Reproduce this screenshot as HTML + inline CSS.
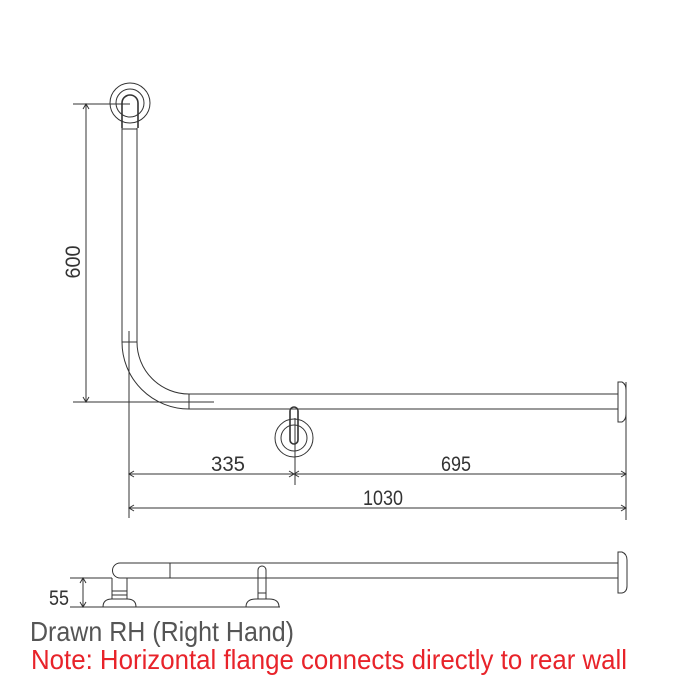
<!DOCTYPE html>
<html><head><style>body{margin:0;background:#fff}svg{display:block}</style></head>
<body>
<svg width="700" height="700" viewBox="0 0 700 700" xmlns="http://www.w3.org/2000/svg">
<g fill="none" stroke="#333" stroke-width="1">
<circle cx="130" cy="103" r="20"/>
<circle cx="130" cy="103" r="14"/>
<path d="M122 128 V103 A8 8 0 0 1 138 103 V128" stroke-width="1.6"/>
<line x1="122" y1="129" x2="137" y2="129"/>
<line x1="122" y1="128" x2="122" y2="342"/>
<line x1="137" y1="128" x2="137" y2="342"/>
<line x1="122" y1="342" x2="137" y2="342"/>
<path d="M122 342 A67 67 0 0 0 189 409"/>
<path d="M137 342 A52 52 0 0 0 189 394"/>
<line x1="189" y1="394" x2="618" y2="394"/>
<line x1="189" y1="409" x2="618" y2="409"/>
<line x1="189" y1="394" x2="189" y2="409"/>
<path d="M618 382 H622 Q626 384 626 390 V414 Q626 420 622 422 H618 Z"/>
<line x1="73" y1="104" x2="130" y2="104"/>
<line x1="73" y1="402" x2="214" y2="402"/>
<line x1="86" y1="104" x2="86" y2="402"/>
<path d="M83 109 L86 104 L89 109 M83 397 L86 402 L89 397"/>
<line x1="129" y1="331" x2="129" y2="518"/>
<line x1="626" y1="382" x2="626" y2="520"/>
<circle cx="294" cy="438" r="19"/>
<circle cx="294" cy="438" r="13"/>
<path d="M290 440 V411 A4 4 0 0 1 298 411 V440 A4 4 0 0 1 290 440" stroke-width="1.6"/>
<line x1="295" y1="418" x2="295" y2="485"/>
<line x1="129" y1="474" x2="626" y2="474"/>
<line x1="129" y1="508" x2="626" y2="508"/>
<path d="M134 471 L129 474 L134 477 M289 471 L294 474 L289 477 M299 471 L294 474 L299 477 M621 471 L626 474 L621 477 M134 505 L129 508 L134 511 M621 505 L626 508 L621 511"/>
<path d="M618 563 H120 A7.5 7.5 0 0 0 120 578 H618"/>
<line x1="170" y1="563" x2="170" y2="578"/>
<path d="M618 552 H622 Q627 554 627 560 V586 Q627 592 622 593 H618 Z"/>
<path d="M112 578 V599 M127 578 V599 M112 591 H127 M112 595 H127"/>
<path d="M103 607 Q103 599 112 599 H127 Q136 599 136 607"/>
<path d="M258 599 V570 A4 4 0 0 1 266 570 V599 M258 593 H266"/>
<path d="M246 607 Q246 599 256 599 H269 Q279 599 279 607"/>
<line x1="70" y1="607" x2="280" y2="607"/>
<line x1="70" y1="578" x2="112" y2="578"/>
<line x1="83" y1="578" x2="83" y2="607"/>
<path d="M80 583 L83 578 L86 583 M80 602 L83 607 L86 602"/>
</g>
<g font-family="Liberation Sans, sans-serif" fill="#333" font-size="21">
<text x="228" y="471" text-anchor="middle" textLength="34" lengthAdjust="spacingAndGlyphs">335</text>
<text x="456" y="471" text-anchor="middle" textLength="30" lengthAdjust="spacingAndGlyphs">695</text>
<text x="383" y="505" text-anchor="middle" textLength="40" lengthAdjust="spacingAndGlyphs">1030</text>
<text transform="translate(80,262) rotate(-90)" text-anchor="middle" textLength="33" lengthAdjust="spacingAndGlyphs">600</text>
<text x="59" y="605" text-anchor="middle" textLength="20" lengthAdjust="spacingAndGlyphs">55</text>
<text x="30" y="641" font-size="28" fill="#555" textLength="264" lengthAdjust="spacingAndGlyphs">Drawn RH (Right Hand)</text>
<text x="31" y="669" font-size="28" fill="#e8232a" textLength="596" lengthAdjust="spacingAndGlyphs">Note: Horizontal flange connects directly to rear wall</text>
</g>
</svg>
</body></html>
